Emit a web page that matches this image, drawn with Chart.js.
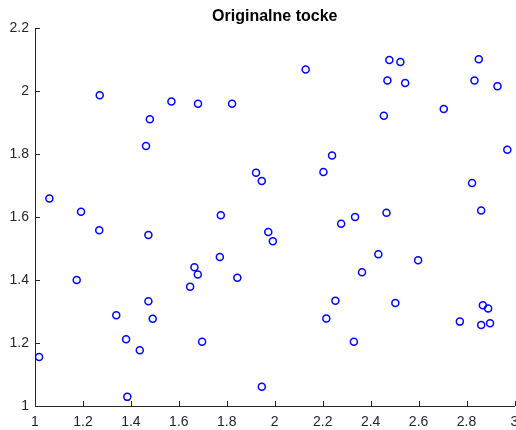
<!DOCTYPE html>
<html>
<head>
<meta charset="utf-8">
<script src="https://cdn.jsdelivr.net/npm/chart.js@4/dist/chart.umd.min.js"></script>
<style>
html,body{margin:0;padding:0;background:#fff;}
#wrap{width:516px;height:430px;}
</style>
</head>
<body>
<div id="wrap"><canvas id="c"></canvas></div>
<script>
const titleText = "Originalne tocke";
const xValues = [1.017,1.060,1.192,1.174,1.270,1.268,1.339,1.380,1.385,1.437,
  1.463,1.479,1.473,1.473,1.491,1.569,1.680,1.822,1.647,1.665,
  1.679,1.697,1.775,1.771,1.844,1.922,1.946,1.946,1.973,1.992,
  2.129,2.203,2.239,2.277,2.335,2.466,2.478,2.524,2.470,2.544,
  2.455,2.705,2.851,2.833,2.929,2.970,2.823,2.861,2.432,2.598,
  2.364,2.253,2.503,2.215,2.330,2.772,2.868,2.890,2.861,2.898];
const yValues = [1.156,1.659,1.617,1.400,1.987,1.558,1.288,1.212,1.029,1.177,
  1.826,1.911,1.543,1.333,1.277,1.967,1.960,1.960,1.379,1.441,
  1.418,1.204,1.606,1.473,1.407,1.741,1.715,1.061,1.553,1.523,
  2.069,1.743,1.796,1.579,1.600,1.614,2.099,2.093,2.034,2.026,
  1.922,1.943,2.101,2.034,2.016,1.814,1.708,1.621,1.482,1.463,
  1.425,1.334,1.327,1.278,1.204,1.268,1.320,1.310,1.257,1.263];
const xTicks = [1,1.2,1.4,1.6,1.8,2,2.2,2.4,2.6,2.8,3];
const yTicks = [1,1.2,1.4,1.6,1.8,2,2.2];

const points = xValues.map((x,i)=>({x:x,y:yValues[i]}));
const axisColor = '#262626';
const fontFam = "Arial, 'Liberation Sans', Helvetica, sans-serif";

const inwardTicks = {
  id:'inwardTicks',
  afterDraw(chart){
    const ctx = chart.ctx, xs = chart.scales.x, ys = chart.scales.y;
    const len = 5;
    ctx.save();
    ctx.strokeStyle = axisColor;
    ctx.lineWidth = 1;
    ctx.beginPath();
    xTicks.forEach(v=>{
      const px = Math.round(xs.getPixelForValue(v))+0.5;
      ctx.moveTo(px, ys.bottom);
      ctx.lineTo(px, ys.bottom-len);
    });
    yTicks.forEach(v=>{
      const py = Math.round(ys.getPixelForValue(v))+0.5;
      ctx.moveTo(xs.left, py);
      ctx.lineTo(xs.left+len, py);
    });
    ctx.stroke();
    ctx.restore();
  }
};

new Chart(document.getElementById('c'), {
  type:'scatter',
  data:{datasets:[{
    data:points,
    showLine:false,
    pointStyle:'circle',
    pointRadius:3.5,
    pointHoverRadius:3.5,
    pointBorderWidth:1.5,
    borderColor:'#0000ff',
    backgroundColor:'rgba(0,0,0,0)'
  }]},
  options:{
    responsive:true,
    maintainAspectRatio:false,
    animation:false,
    events:[],
    layout:{autoPadding:false,padding:{left:0,right:1.5,top:0,bottom:0}},
    plugins:{
      legend:{display:false},
      tooltip:{enabled:false},
      title:{
        display:true,
        fullSize:false,
        text:titleText,
        color:'#000',
        font:{family:fontFam,size:16,weight:'bold',lineHeight:1.2},
        padding:{top:7,bottom:2}
      }
    },
    scales:{
      x:{
        type:'linear',
        min:1,max:3,
        afterBuildTicks(s){ s.ticks = xTicks.map(v=>({value:v})); },
        afterFit(s){ s.height = 24; s.paddingLeft = 0; s.paddingRight = 0; },
        grid:{display:true,drawOnChartArea:false,drawTicks:false},
        border:{display:true,color:axisColor,width:1},
        ticks:{
          color:axisColor,
          padding:8,
          maxRotation:0,
          autoSkip:false,
          font:{family:fontFam,size:14},
          callback:v=>String(Math.round(v*10)/10)
        }
      },
      y:{
        type:'linear',
        min:1,max:2.2,
        afterBuildTicks(s){ s.ticks = yTicks.map(v=>({value:v})); },
        afterFit(s){ s.width = 35; },
        grid:{display:true,drawOnChartArea:false,drawTicks:false},
        border:{display:true,color:axisColor,width:1},
        ticks:{
          color:axisColor,
          padding:6,
          autoSkip:false,
          font:{family:fontFam,size:14},
          callback:v=>String(Math.round(v*10)/10)
        }
      }
    }
  },
  plugins:[inwardTicks]
});
</script>
</body>
</html>
